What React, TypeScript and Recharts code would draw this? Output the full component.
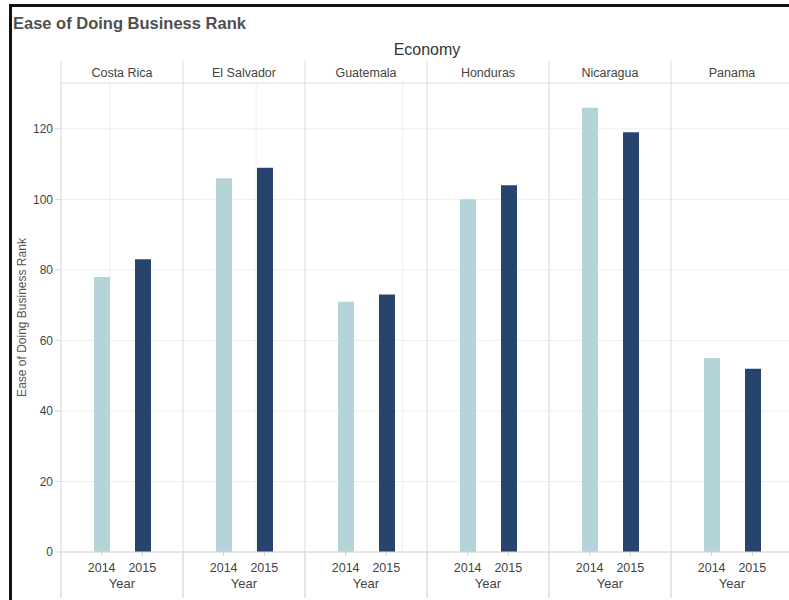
import React from 'react';
import { BarChart, Bar, XAxis, YAxis, CartesianGrid } from 'recharts';

const economies = ['Costa Rica', 'El Salvador', 'Guatemala', 'Honduras', 'Nicaragua', 'Panama'];
const years = ['2014', '2015'];
const rank2014 = [78, 106, 71, 100, 126, 55];
const rank2015 = [83, 109, 73, 104, 119, 52];
const yTicks = [0, 20, 40, 60, 80, 100, 120];

const data = economies.map((economy, i) => ({
    economy,
    y2014: rank2014[i],
    y2015: rank2015[i],
}));

// light vertical gridlines sit at each year slot (thirds of every panel)
const slotTicks = economies.flatMap((_, i) => years.map((_, k) => i + (k + 1) / (years.length + 1)));

const FONT = '"Liberation Sans", Arial, sans-serif';
const PLOT_TOP = 83;
const PLOT_BOTTOM = 552;

// header cell: economy name and panel separator
const TopTick = ({ x, payload }: any) => {
    const half = payload.offset ?? 61;
    return (
        <g>
            <line x1={x - half} x2={x - half} y1={60} y2={598} stroke="#dcdcdc" />
            <line x1={x - half} x2={x + half} y1={PLOT_TOP} y2={PLOT_TOP} stroke="#e4e4e4" />
            <text x={x} y={77} textAnchor="middle" fontSize={12.5} fill="#444" fontFamily={FONT}>
                {payload.value}
            </text>
        </g>
    );
};

// year labels under each panel
const BottomTick = ({ x, payload }: any) => {
    const half = payload.offset ?? 61;
    return (
        <g>
            <line x1={x - half} x2={x - half} y1={PLOT_BOTTOM} y2={598} stroke="#dcdcdc" />
            {years.map((yr, k) => {
                const bx = x + ((2 * k - 1) * half) / 3;
                return (
                    <g key={yr}>
                        <line x1={bx} x2={bx} y1={PLOT_BOTTOM} y2={PLOT_BOTTOM + 4} stroke="#cfcfcf" />
                        <text x={bx} y={572} textAnchor="middle" fontSize={12.5} fill="#444" fontFamily={FONT}>
                            {yr}
                        </text>
                    </g>
                );
            })}
            <text x={x} y={588} textAnchor="middle" fontSize={13} fill="#444" fontFamily={FONT}>
                Year
            </text>
        </g>
    );
};

const YLabel = ({ viewBox }: any) => {
    const cx = 22;
    const cy = viewBox.y + viewBox.height / 2;
    return (
        <text
            x={cx}
            y={cy}
            transform={`rotate(-90, ${cx}, ${cy})`}
            textAnchor="middle"
            dominantBaseline="central"
            fontSize={12}
            fill="#555"
            fontFamily={FONT}
        >
            Ease of Doing Business Rank
        </text>
    );
};

const App = () => {
    return (
        <div style={{ position: 'absolute', left: 0, top: 0, width: 789, height: 600, overflow: 'hidden', background: '#fff' }}>
            <BarChart
                width={800}
                height={600}
                data={data}
                margin={{ top: 0, right: 7, bottom: 0, left: 0 }}
                barSize={16}
                barGap={25}
            >
                <CartesianGrid xAxisId="grid" stroke="#eeeeee" />
                <XAxis
                    xAxisId="grid"
                    type="number"
                    domain={[0, economies.length]}
                    ticks={slotTicks}
                    hide
                />
                <XAxis
                    xAxisId="top"
                    dataKey="economy"
                    orientation="top"
                    height={PLOT_TOP}
                    interval={0}
                    axisLine={false}
                    tickLine={false}
                    tick={<TopTick />}
                />
                <XAxis
                    xAxisId="bottom"
                    dataKey="economy"
                    height={600 - PLOT_BOTTOM}
                    interval={0}
                    axisLine={{ stroke: '#d6d6d6' }}
                    tickLine={false}
                    tick={<BottomTick />}
                />
                <YAxis
                    width={61}
                    domain={[0, 133]}
                    ticks={yTicks}
                    axisLine={false}
                    tickSize={6}
                    tickMargin={2}
                    tickLine={{ stroke: '#d6d6d6' }}
                    tick={{ fontSize: 12, fill: '#444', fontFamily: FONT }}
                    label={<YLabel />}
                />
                <Bar xAxisId="bottom" dataKey="y2014" fill="#b5d4d9" isAnimationActive={false} />
                <Bar xAxisId="bottom" dataKey="y2015" fill="#26446c" isAnimationActive={false} />
                <text x={13} y={29} fontSize={16.5} fontWeight="bold" fill="#4f4f4f" fontFamily={FONT}>
                    Ease of Doing Business Rank
                </text>
                <text x={427} y={55} textAnchor="middle" fontSize={16} fill="#333" fontFamily={FONT}>
                    Economy
                </text>
            </BarChart>
            <div
                style={{
                    position: 'absolute',
                    left: 9,
                    top: 4,
                    width: 900,
                    height: 700,
                    borderTop: '3px solid #111',
                    borderLeft: '3px solid #111',
                    pointerEvents: 'none',
                }}
            />
        </div>
    );
};

export default App;
